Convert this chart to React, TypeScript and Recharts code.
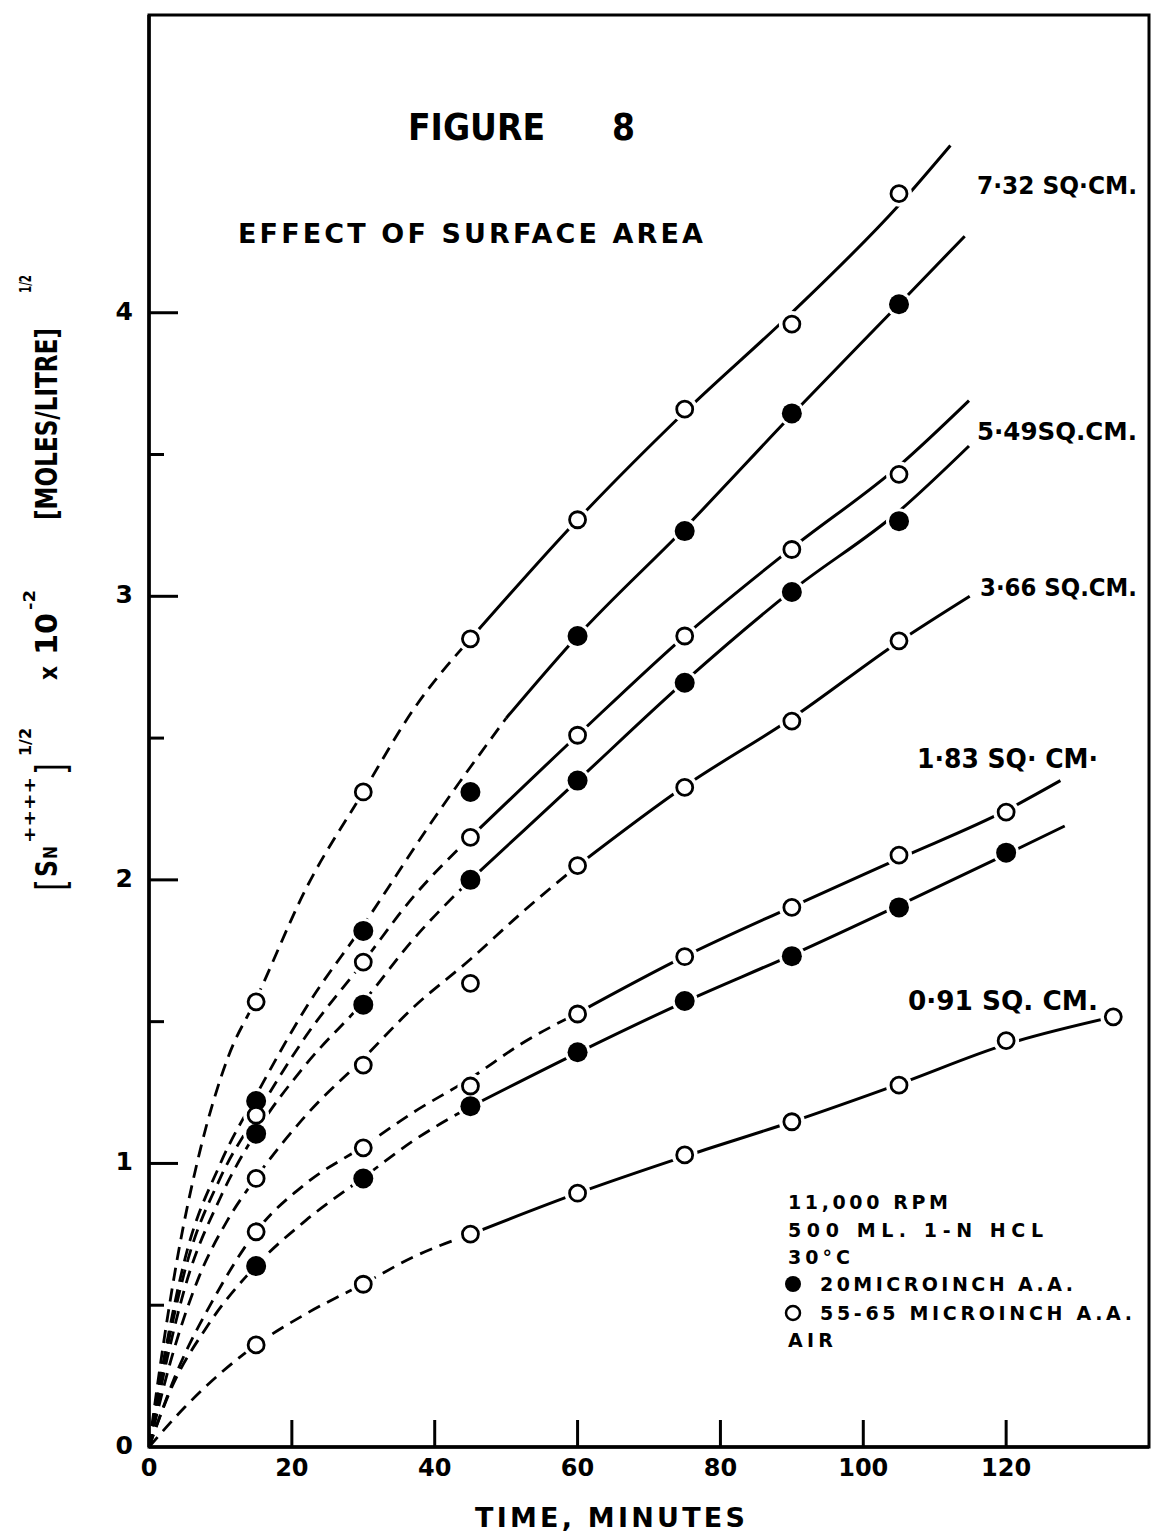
import React from 'react';
import { ComposedChart, Line, Scatter, XAxis, YAxis, ReferenceArea } from 'recharts';

const FONT = '"DejaVu Sans", sans-serif';
const PLOT_LEFT = 149;
const PLOT_BOTTOM = 1447;

// sampling times, minutes
const times = [15, 30, 45, 60, 75, 90, 105, 120, 135];

// measured points, [Sn++++]^1/2 x 10^-2
const open732 = [1.57, 2.31, 2.85, 3.27, 3.66, 3.96, 4.42];
const filled732 = [1.22, 1.82, 2.31, 2.86, 3.23, 3.645, 4.03];
const open549 = [1.17, 1.71, 2.15, 2.51, 2.86, 3.165, 3.43];
const filled549 = [1.105, 1.56, 2.0, 2.35, 2.695, 3.015, 3.265];
const open366 = [0.947, 1.347, 1.635, 2.05, 2.326, 2.56, 2.843];
const open183 = [0.759, 1.055, 1.273, 1.527, 1.729, 1.903, 2.087, 2.239];
const filled183 = [0.638, 0.947, 1.202, 1.392, 1.573, 1.731, 1.903, 2.096];
const open091 = [0.36, 0.574, 0.751, 0.895, 1.03, 1.147, 1.276, 1.433, 1.517];

// hand drawn curves: [time, value]
const fit732oDash = [[0, 0], [2, 0.36], [4, 0.67], [7, 1.03], [11, 1.37], [15, 1.58], [22, 1.97], [30, 2.31], [37, 2.6], [45, 2.85]];
const fit732oSolid = [[45, 2.85], [60, 3.27], [75, 3.65], [90, 4.0], [105, 4.38], [112.2, 4.59]];
const fit732fDash = [[0, 0], [2, 0.3], [5, 0.66], [10, 1.0], [15, 1.24], [22, 1.55], [30, 1.84], [40, 2.22], [50, 2.57]];
const fit732fSolid = [[50, 2.57], [60, 2.86], [75, 3.24], [90, 3.64], [105, 4.03], [114.2, 4.27]];
const fit549oDash = [[0, 0], [2, 0.28], [5, 0.62], [10, 0.95], [15, 1.17], [22, 1.45], [30, 1.71], [37, 1.94], [45, 2.15]];
const fit549oSolid = [[45, 2.15], [60, 2.51], [75, 2.86], [90, 3.17], [105, 3.46], [114.8, 3.69]];
const fit549fDash = [[0, 0], [2, 0.25], [5, 0.56], [10, 0.88], [15, 1.11], [22, 1.35], [30, 1.57], [37, 1.79], [45, 2.0]];
const fit549fSolid = [[45, 2.0], [60, 2.35], [75, 2.7], [90, 3.02], [105, 3.3], [114.8, 3.53]];
const fit366oDash = [[0, 0], [3, 0.3], [7, 0.6], [11, 0.8], [15, 0.95], [22, 1.17], [30, 1.37], [37, 1.55], [45, 1.72], [52, 1.88], [60, 2.05]];
const fit366oSolid = [[60, 2.05], [75, 2.33], [90, 2.57], [105, 2.84], [114.9, 3.0]];
const fit183oDash = [[0, 0], [4, 0.27], [9, 0.52], [15, 0.76], [22, 0.93], [30, 1.06], [37, 1.18], [45, 1.3], [52, 1.42], [60, 1.53]];
const fit183oSolid = [[60, 1.53], [75, 1.73], [90, 1.905], [105, 2.075], [120, 2.245], [127.6, 2.35]];
const fit183fDash = [[0, 0], [3, 0.2], [8, 0.42], [15, 0.64], [22, 0.8], [30, 0.95], [37, 1.08], [45, 1.2]];
const fit183fSolid = [[45, 1.2], [60, 1.39], [75, 1.57], [90, 1.735], [105, 1.91], [120, 2.09], [128.2, 2.19]];
const fit091oDash = [[0, 0], [5, 0.14], [10, 0.26], [15, 0.36], [22, 0.47], [30, 0.575], [37, 0.67], [45, 0.75]];
const fit091oSolid = [[45, 0.75], [60, 0.895], [75, 1.025], [90, 1.147], [105, 1.28], [120, 1.42], [135, 1.517]];

const xTicks = [0, 20, 40, 60, 80, 100, 120];
const yTicks = [0, 0.5, 1, 1.5, 2, 2.5, 3, 3.5, 4];

const toPts = (arr: number[][]) => arr.map(([x, y]) => ({ x, y }));
const marks = (vals: number[]) => vals.map((y, i) => ({ x: times[i], y }));

const dashed = [fit732oDash, fit732fDash, fit549oDash, fit549fDash, fit366oDash, fit183oDash, fit183fDash, fit091oDash];
const solid = [fit732oSolid, fit732fSolid, fit549oSolid, fit549fSolid, fit366oSolid, fit183oSolid, fit183fSolid, fit091oSolid];
const openPts = [open732, open549, open366, open183, open091].flatMap(marks);
const filledPts = [filled732, filled549, filled183].flatMap(marks);
const allPts = [...openPts, ...filledPts];

const XTick = (props: any) => {
  const { x, payload } = props;
  return (
    <g>
      {payload.value !== 0 && <line x1={x} x2={x} y1={PLOT_BOTTOM} y2={PLOT_BOTTOM - 27} stroke="#000" strokeWidth={3} />}
      <text x={x} y={1476} textAnchor="middle" fontSize={24} fontWeight="bold" fontFamily={FONT} fill="#000">
        {payload.value}
      </text>
    </g>
  );
};

const YTick = (props: any) => {
  const { y, payload } = props;
  const v = payload.value;
  const major = Number.isInteger(v);
  return (
    <g>
      {v !== 0 && <line x1={PLOT_LEFT} x2={PLOT_LEFT + (major ? 29 : 15)} y1={y} y2={y} stroke="#000" strokeWidth={3} />}
      {major && (
        <text x={133} y={y + 7} textAnchor="end" fontSize={25} fontWeight="bold" fontFamily={FONT} fill="#000">
          {v}
        </text>
      )}
    </g>
  );
};

const Halo = (p: any) => <circle cx={p.cx} cy={p.cy} r={13} fill="#fff" />;
const FilledDot = (p: any) => <circle cx={p.cx} cy={p.cy} r={10} fill="#000" />;
const OpenDot = (p: any) => <circle cx={p.cx} cy={p.cy} r={8} fill="#fff" stroke="#000" strokeWidth={2.8} />;

// squeezed lettering (glyphs narrowed) and spaced lettering (gaps widened)
const T = (props: any) => (
  <text fontFamily={FONT} fontWeight="bold" fill="#000" lengthAdjust="spacingAndGlyphs" {...props} />
);
const S = (props: any) => (
  <text fontFamily={FONT} fontWeight="bold" fill="#000" lengthAdjust="spacing" {...props} />
);

export default function App() {
  return (
    <div style={{ position: 'relative', width: 1154, height: 1534, background: '#fff' }}>
      <style>{'body{margin:0;background:#fff}'}</style>
      <ComposedChart width={1154} height={1534} margin={{ top: 15, right: 5, bottom: 0, left: 0 }}>
        <XAxis
          type="number"
          dataKey="x"
          domain={[0, 140]}
          ticks={xTicks}
          interval={0}
          height={87}
          allowDataOverflow
          axisLine={{ stroke: '#000', strokeWidth: 3.5 }}
          tickLine={false}
          tick={<XTick />}
        />
        <YAxis
          type="number"
          dataKey="y"
          domain={[0, 5.05]}
          ticks={yTicks}
          interval={0}
          width={149}
          allowDataOverflow
          axisLine={{ stroke: '#000', strokeWidth: 3.5 }}
          tickLine={false}
          tick={<YTick />}
        />
        <ReferenceArea x1={0} x2={140} y1={0} y2={5.05} fill="none" fillOpacity={0} stroke="#000" strokeWidth={3} />
        {dashed.map((c, i) => (
          <Line
            key={`d${i}`}
            data={toPts(c)}
            dataKey="y"
            type="monotone"
            stroke="#000"
            strokeWidth={2.8}
            strokeDasharray="13 8"
            dot={false}
            activeDot={false}
            isAnimationActive={false}
          />
        ))}
        {solid.map((c, i) => (
          <Line
            key={`s${i}`}
            data={toPts(c)}
            dataKey="y"
            type="monotone"
            stroke="#000"
            strokeWidth={3}
            dot={false}
            activeDot={false}
            isAnimationActive={false}
          />
        ))}
        <Scatter data={allPts} dataKey="y" shape={Halo} isAnimationActive={false} />
        <Scatter data={filledPts} dataKey="y" shape={FilledDot} isAnimationActive={false} />
        <Scatter data={openPts} dataKey="y" shape={OpenDot} isAnimationActive={false} />
      </ComposedChart>

      <svg width={1154} height={1534} style={{ position: 'absolute', left: 0, top: 0, pointerEvents: 'none' }}>
        <T x={408} y={140} fontSize={37} textLength={137}>FIGURE</T>
        <T x={612} y={140} fontSize={37} textLength={23}>8</T>
        <S x={238} y={243} fontSize={27} textLength={465}>EFFECT OF SURFACE AREA</S>

        <T x={977} y={194} fontSize={24} textLength={160}>7·32 SQ·CM.</T>
        <T x={977} y={440} fontSize={25} textLength={160}>5·49SQ.CM.</T>
        <T x={980} y={596} fontSize={24} textLength={157}>3·66 SQ.CM.</T>
        <T x={917} y={768} fontSize={26} textLength={181}>1·83 SQ· CM·</T>
        <T x={908} y={1010} fontSize={26} textLength={190}>0·91 SQ. CM.</T>

        <S x={788} y={1209} fontSize={19} textLength={160}>11,000 RPM</S>
        <S x={788} y={1237} fontSize={19} textLength={255}>500 ML. 1-N HCL</S>
        <S x={788} y={1264} fontSize={19} textLength={62}>30°C</S>
        <circle cx={793} cy={1284} r={8} fill="#000" />
        <S x={820} y={1291} fontSize={19} textLength={253}>20MICROINCH A.A.</S>
        <circle cx={793} cy={1313} r={7} fill="#fff" stroke="#000" strokeWidth={2.5} />
        <S x={820} y={1320} fontSize={19} textLength={312}>55-65 MICROINCH A.A.</S>
        <S x={788} y={1347} fontSize={19} textLength={45}>AIR</S>

        <S x={475} y={1527} fontSize={27} textLength={270}>TIME, MINUTES</S>

        <g transform="translate(57,891) rotate(-90)">
          <T x={0} y={8} fontSize={40} textLength={12} fontWeight="normal">[</T>
          <T x={14} y={0} fontSize={30} textLength={17}>S</T>
          <T x={32} y={0} fontSize={20} textLength={13}>N</T>
          <T x={48} y={-22} fontSize={16} textLength={66}>++++</T>
          <T x={116} y={8} fontSize={40} textLength={12} fontWeight="normal">]</T>
          <T x={135} y={-26} fontSize={16} textLength={28}>1/2</T>
          <T x={211} y={0} fontSize={24} textLength={14}>x</T>
          <T x={236} y={0} fontSize={30} textLength={42}>10</T>
          <T x={281} y={-22} fontSize={16} textLength={20}>-2</T>
          <T x={371} y={0} fontSize={30} textLength={192}>[MOLES/LITRE]</T>
          <T x={598} y={-26} fontSize={16} textLength={18}>1/2</T>
        </g>
      </svg>
    </div>
  );
}
